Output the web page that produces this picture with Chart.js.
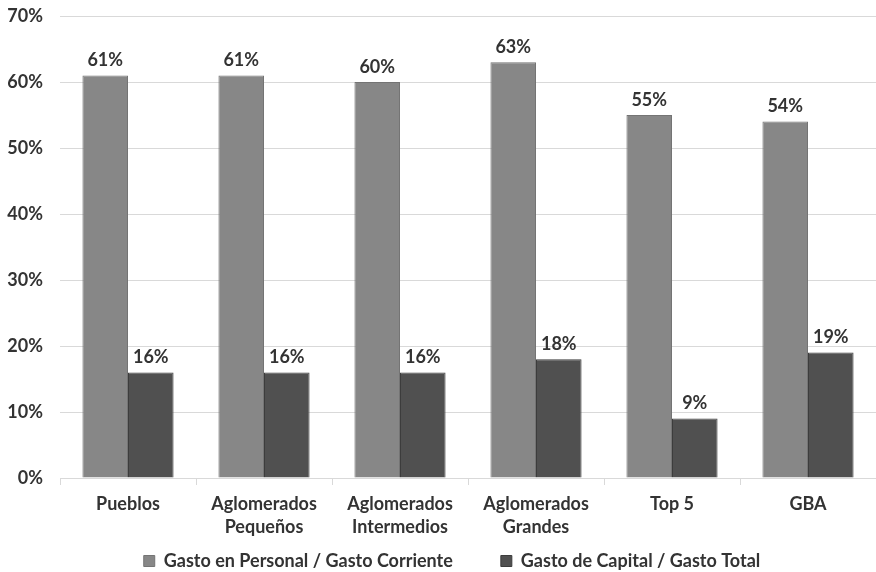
<!DOCTYPE html>
<html>
<head>
<meta charset="utf-8">
<script src="https://cdn.jsdelivr.net/npm/chart.js@4/dist/chart.umd.min.js"></script>
<style>
  html, body { margin: 0; padding: 0; background: #fff; }
  #wrap { width: 876px; height: 572px; }
</style>
</head>
<body>
<div id="wrap"><canvas id="gasto"></canvas></div>
<script>
// data
const categories = ['Pueblos', ['Aglomerados', 'Pequeños'], ['Aglomerados', 'Intermedios'], ['Aglomerados', 'Grandes'], 'Top 5', 'GBA']
const personalCorriente = [61, 61, 60, 63, 55, 54]
const capitalTotal = [16, 16, 16, 18, 9, 19]
const seriesNames = ['Gasto en Personal / Gasto Corriente', 'Gasto de Capital / Gasto Total']
const yTicks = [0, 10, 20, 30, 40, 50, 60, 70]

const textColor = '#333333'
const fontFamily = 'Lato, "Open Sans", sans-serif'

// value labels above each bar
const barLabels = {
  id: 'barLabels',
  afterDatasetsDraw(chart) {
    const { ctx } = chart
    ctx.save()
    ctx.font = `bold 18px ${fontFamily}`
    ctx.fillStyle = textColor
    ctx.textAlign = 'center'
    ctx.textBaseline = 'bottom'
    chart.data.datasets.forEach((ds, i) => {
      chart.getDatasetMeta(i).data.forEach((bar, j) => {
        ctx.fillText(ds.data[j] + '%', bar.x, bar.y - 6)
      })
    })
    ctx.restore()
  }
}

// legend padding also sets the gap between items, so pull the box
// back up to sit just under the category labels
const legendUnderAxis = {
  id: 'legendUnderAxis',
  afterLayout(chart) {
    const lg = chart.legend
    const dy = chart.scales.x.bottom + 5 - (lg.top + lg.options.labels.padding)
    lg.top += dy
    lg.bottom = chart.height
    lg.left += 14
    lg.right += 14
  }
}

const chart = new Chart(document.getElementById('gasto'), {
  type: 'bar',
  data: {
    labels: categories,
    datasets: [{
      label: seriesNames[0],
      data: personalCorriente,
      backgroundColor: '#878787',
      borderColor: '#747474',
      borderWidth: 1,
      categoryPercentage: 0.67,
      barPercentage: 1
    }, {
      label: seriesNames[1],
      data: capitalTotal,
      backgroundColor: '#505050',
      borderColor: '#3c3c3c',
      borderWidth: 1,
      categoryPercentage: 0.67,
      barPercentage: 1
    }]
  },
  options: {
    responsive: true,
    maintainAspectRatio: false,
    animation: false,
    layout: { padding: { top: 16, right: 0, left: 0, bottom: 0 } },
    plugins: {
      tooltip: { enabled: false },
      legend: {
        position: 'bottom',
        maxHeight: 25,
        labels: {
          boxWidth: 11,
          boxHeight: 11,
          padding: 48,
          color: textColor,
          font: { family: fontFamily, size: 18, weight: 'bold' }
        }
      }
    },
    scales: {
      x: {
        grid: {
          drawOnChartArea: false,
          drawTicks: true,
          tickLength: 7,
          color: '#d9d9d9'
        },
        border: { color: '#d9d9d9' },
        ticks: {
          color: textColor,
          padding: 8,
          font: { family: fontFamily, size: 18, weight: 'bold', lineHeight: '23px' }
        }
      },
      y: {
        min: 0,
        max: 70,
        afterFit: s => {
          s.width = 60
          s.paddingTop = 0
          s.paddingBottom = 0
        },
        afterBuildTicks: s => { s.ticks = yTicks.map(v => ({ value: v })) },
        grid: { color: '#d9d9d9', drawTicks: false },
        border: { display: false },
        ticks: {
          color: textColor,
          padding: 17,
          font: { family: fontFamily, size: 18, weight: 'bold' },
          callback: v => v + '%'
        }
      }
    }
  },
  plugins: [barLabels, legendUnderAxis]
})
</script>
</body>
</html>
